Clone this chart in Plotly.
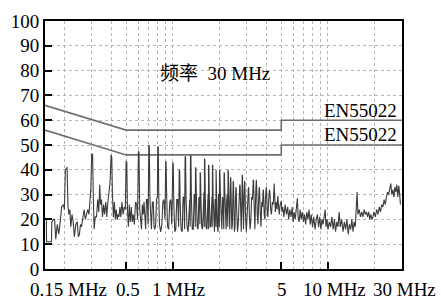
import math
import plotly.graph_objects as go

# ---------------- data ----------------
# measured conducted-emission trace: (frequency MHz, level dBuV)
trace_points = [
    (0.150, 20), (0.153, 20), (0.1535, 11), (0.165, 11), (0.166, 19), (0.170, 20), (0.173, 20),
    (0.176, 12), (0.180, 18), (0.184, 14), (0.188, 19), (0.192, 25), (0.197, 26), (0.200, 24),
    (0.203, 40), (0.208, 41), (0.211, 25), (0.214, 22), (0.217, 24), (0.220, 17), (0.224, 22),
    (0.228, 19), (0.232, 13), (0.237, 18), (0.242, 19), (0.246, 13), (0.250, 14), (0.254, 18),
    (0.258, 17), (0.263, 22), (0.268, 24), (0.273, 20), (0.278, 22), (0.283, 24), (0.288, 22),
    (0.292, 30), (0.296, 32), (0.300, 46.5), (0.304, 46), (0.307, 30), (0.311, 16), (0.316, 21),
    (0.322, 21), (0.328, 28), (0.333, 23), (0.338, 34), (0.342, 26), (0.347, 28), (0.352, 21),
    (0.358, 26), (0.363, 22), (0.370, 27), (0.375, 21), (0.380, 26), (0.386, 30), (0.394, 35),
    (0.400, 46), (0.404, 45), (0.408, 30), (0.414, 21), (0.420, 27), (0.426, 20), (0.432, 24),
    (0.438, 20), (0.444, 22), (0.450, 21), (0.456, 25), (0.462, 21), (0.470, 27), (0.478, 22),
    (0.486, 25), (0.494, 24), (0.500, 43.5), (0.505, 43), (0.510, 24), (0.517, 17), (0.524, 26),
    (0.532, 19), (0.540, 25), (0.548, 19), (0.556, 22), (0.565, 18), (0.575, 27), (0.585, 26),
    (0.592, 20), (0.600, 47.5), (0.605, 47), (0.612, 24), (0.620, 18), (0.628, 16), (0.636, 26),
    (0.644, 22), (0.652, 27), (0.660, 20), (0.668, 16), (0.676, 28), (0.685, 28), (0.693, 18),
    (0.700, 50), (0.705, 49.5), (0.712, 28), (0.720, 20), (0.728, 16), (0.738, 27), (0.748, 27),
    (0.757, 17), (0.765, 16), (0.775, 18), (0.785, 28), (0.795, 29), (0.800, 49.5), (0.806, 49),
    (0.812, 28), (0.820, 18), (0.835, 15), (0.850, 18), (0.862, 27), (0.875, 28), (0.890, 20),
    (0.900, 43.5), (0.905, 43), (0.912, 30), (0.925, 17), (0.940, 16), (0.955, 27), (0.970, 28),
    (0.985, 18), (1.000, 43), (1.006, 42.5), (1.015, 26), (1.030, 15), (1.045, 16), (1.060, 28),
    (1.075, 28), (1.090, 17), (1.100, 40), (1.107, 39.5), (1.115, 27), (1.130, 16), (1.150, 15),
    (1.165, 29), (1.180, 29), (1.190, 16), (1.200, 45.5), (1.208, 45), (1.218, 28), (1.235, 17),
    (1.255, 15), (1.270, 27), (1.285, 28), (1.293, 17), (1.300, 46), (1.308, 45.5), (1.318, 28),
    (1.335, 16), (1.355, 16), (1.372, 30), (1.388, 30), (1.395, 17), (1.400, 41), (1.408, 40.5),
    (1.418, 30), (1.435, 17), (1.455, 16), (1.472, 29), (1.488, 28), (1.495, 18), (1.500, 39),
    (1.508, 38.5), (1.518, 28), (1.535, 17), (1.555, 16), (1.572, 31), (1.588, 31), (1.595, 17),
    (1.600, 44.5), (1.608, 44), (1.618, 30), (1.635, 17), (1.655, 16), (1.672, 30), (1.688, 30),
    (1.695, 16), (1.700, 42), (1.708, 41.5), (1.718, 30), (1.735, 17), (1.755, 17), (1.772, 29),
    (1.788, 29), (1.795, 17), (1.800, 42), (1.808, 41.5), (1.818, 29), (1.835, 16), (1.855, 15),
    (1.872, 28), (1.888, 28), (1.895, 17), (1.900, 40), (1.908, 39.5), (1.918, 28), (1.935, 17),
    (1.955, 15), (1.972, 30), (1.985, 30), (1.995, 17), (2.000, 40), (2.010, 39.5), (2.030, 28),
    (2.050, 17), (2.070, 16), (2.090, 29), (2.110, 27), (2.130, 16), (2.140, 39), (2.150, 38.5),
    (2.165, 30), (2.185, 17), (2.205, 16), (2.225, 28), (2.245, 30), (2.260, 17), (2.270, 40),
    (2.280, 39.5), (2.295, 29), (2.310, 17), (2.330, 16), (2.345, 31), (2.355, 37), (2.365, 36.5),
    (2.380, 27), (2.400, 16), (2.420, 18), (2.435, 28), (2.450, 35.5), (2.460, 35), (2.475, 25),
    (2.495, 15), (2.515, 17), (2.535, 29), (2.550, 33), (2.560, 32.5), (2.580, 24), (2.610, 15),
    (2.640, 18), (2.670, 30), (2.700, 34), (2.715, 33.5), (2.735, 22), (2.760, 15), (2.785, 27),
    (2.800, 38), (2.812, 37.5), (2.830, 26), (2.855, 16), (2.880, 30), (2.900, 35.5), (2.912, 35),
    (2.940, 22), (2.975, 15), (3.010, 21), (3.045, 30), (3.070, 33), (3.085, 32.5), (3.115, 21),
    (3.150, 16), (3.185, 20), (3.220, 29), (3.260, 28), (3.300, 36), (3.315, 35.5), (3.345, 25),
    (3.380, 16), (3.420, 30), (3.450, 36), (3.465, 35), (3.500, 22), (3.540, 18), (3.575, 28),
    (3.600, 33), (3.620, 32.5), (3.660, 23), (3.700, 17), (3.745, 27), (3.785, 25), (3.820, 32),
    (3.840, 31.5), (3.880, 22), (3.920, 20), (3.960, 29), (4.000, 33), (4.020, 32), (4.060, 23),
    (4.100, 21), (4.150, 28), (4.200, 32), (4.225, 31), (4.270, 24), (4.320, 22), (4.380, 27),
    (4.440, 26), (4.500, 34.5), (4.530, 30), (4.580, 23), (4.640, 27), (4.700, 24), (4.750, 29.5),
    (4.790, 25), (4.850, 22), (4.920, 26), (5.000, 27.5), (5.050, 23), (5.120, 25), (5.200, 21),
    (5.300, 26), (5.400, 22), (5.500, 25), (5.580, 20), (5.680, 24), (5.780, 21), (5.880, 25),
    (5.960, 19), (6.050, 23), (6.150, 20), (6.250, 24), (6.350, 28.5), (6.420, 21), (6.520, 19),
    (6.620, 24), (6.720, 20), (6.830, 23), (6.950, 19), (7.060, 22), (7.180, 18), (7.300, 23),
    (7.420, 20), (7.550, 24), (7.680, 18), (7.800, 22), (7.950, 17), (8.100, 21), (8.250, 16),
    (8.400, 20), (8.550, 22), (8.700, 17), (8.850, 21), (9.000, 16), (9.150, 20), (9.300, 18),
    (9.450, 21), (9.600, 24), (9.700, 17), (9.850, 20), (10.00, 16), (10.20, 19), (10.40, 17),
    (10.60, 21), (10.80, 16), (11.00, 20), (11.20, 15), (11.40, 19), (11.60, 17), (11.80, 23),
    (12.00, 17), (12.25, 20), (12.50, 15), (12.75, 19), (13.00, 16), (13.25, 20), (13.50, 14),
    (13.75, 18), (14.00, 16), (14.25, 20), (14.50, 15), (14.75, 19), (15.00, 17), (15.20, 22),
    (15.40, 31), (15.60, 22), (15.90, 24), (16.20, 21), (16.50, 23), (16.80, 21), (17.10, 24),
    (17.40, 22), (17.70, 23), (18.00, 21), (18.30, 23), (18.60, 20), (18.90, 22), (19.20, 20),
    (19.50, 21), (19.80, 23), (20.20, 21), (20.60, 24), (21.00, 22), (21.40, 25), (21.80, 23),
    (22.20, 26), (22.60, 25), (23.00, 28), (23.40, 26), (23.80, 29), (24.20, 31), (24.60, 30),
    (25.00, 33), (25.40, 34.5), (25.80, 30), (26.20, 32), (26.60, 29), (27.00, 33), (27.40, 31),
    (27.80, 34), (28.20, 29), (28.60, 33.5), (29.00, 30), (29.30, 26),
]
trace_freq = [p[0] for p in trace_points]
trace_level = [p[1] for p in trace_points]

# EN55022 limit lines
limit_freq = [0.15, 0.5, 5, 5, 30]
limit_qp = [66, 56, 56, 60, 60]
limit_av = [56, 46, 46, 50, 50]
limit_label = "EN55022"
limit_label_y = [64, 54.3]

# axes
x_range = [0.15, 30]
x_tick_vals = [0.5, 1, 5, 10]
x_grid_vals = [0.2, 0.3, 0.4, 0.6, 0.7, 0.8, 0.9, 2, 3, 4, 6, 7, 8, 9, 20]
x_label_vals = [0.15, 0.5, 1, 5, 10, 30]
x_label_text = ["0.15 MHz", "0.5", "1 MHz", "5", "10 MHz", "30 MHz"]
x_label_shift = [23, 2, 6, 1, 7, 2]
y_range = [0, 100]
title_text = "频率  30 MHz"
title_pos = (1.88, 79)

FONT = "Liberation Serif"
FONT_CJK = "Liberation Serif, Noto Sans CJK SC"

fig = go.Figure()
fig.add_trace(go.Scatter(x=limit_freq, y=limit_qp, mode="lines",
                         line=dict(color="#6e6e6e", width=1.6), showlegend=False))
fig.add_trace(go.Scatter(x=limit_freq, y=limit_av, mode="lines",
                         line=dict(color="#6e6e6e", width=1.6), showlegend=False))
fig.add_trace(go.Scatter(x=trace_freq, y=trace_level, mode="lines",
                         line=dict(color="#3c3c3c", width=1.1), showlegend=False))

annotations = []
for v, t, s in zip(x_label_vals, x_label_text, x_label_shift):
    annotations.append(dict(x=math.log10(v), y=0, xref="x", yref="paper", text=t,
                            showarrow=False, xanchor="center", yanchor="middle",
                            xshift=s, yshift=-20, font=dict(family=FONT, size=19, color="black")))
for yy in limit_label_y:
    annotations.append(dict(x=1, y=yy, xref="paper", yref="y", text=limit_label,
                            showarrow=False, xanchor="right", yanchor="middle", xshift=-3,
                            font=dict(family=FONT, size=19, color="black")))
annotations.append(dict(x=math.log10(title_pos[0]), y=title_pos[1], xref="x", yref="y",
                        text=title_text, showarrow=False, xanchor="center", yanchor="middle",
                        font=dict(family=FONT_CJK, size=19, color="black")))

fig.update_layout(
    width=441, height=300,
    margin=dict(l=37, r=39, t=11, b=31),
    paper_bgcolor="white", plot_bgcolor="white",
    font=dict(family=FONT, size=19, color="black"),
    annotations=annotations,
    xaxis=dict(
        type="log", range=[math.log10(x_range[0]), math.log10(x_range[1])],
        tickmode="array", tickvals=x_tick_vals, showticklabels=False,
        ticks="inside", ticklen=7, tickwidth=2, tickcolor="black",
        showgrid=True, gridcolor="#b5b5b5", griddash="dot", gridwidth=1,
        minor=dict(tickmode="array", tickvals=x_grid_vals, ticks="", showgrid=True,
                   gridcolor="#b5b5b5", griddash="dot", gridwidth=1),
        showline=True, linecolor="black", linewidth=2, mirror=True, zeroline=False,
    ),
    yaxis=dict(
        range=y_range, tickmode="linear", tick0=0, dtick=10,
        ticks="inside", ticklen=7, tickwidth=2, tickcolor="black",
        showgrid=True, gridcolor="#b5b5b5", griddash="dot", gridwidth=1,
        showline=True, linecolor="black", linewidth=2, mirror=True, zeroline=False,
        tickfont=dict(family=FONT, size=19, color="black"),
    ),
)

fig.write_html("out.html")
